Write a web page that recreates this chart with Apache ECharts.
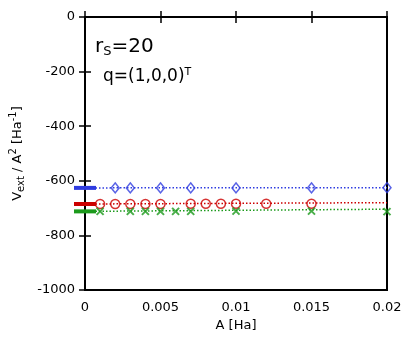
<!DOCTYPE html>
<html>
<head>
<meta charset="utf-8">
<script src="https://cdn.jsdelivr.net/npm/echarts@6/dist/echarts.min.js"></script>
<style>
  html, body { margin: 0; padding: 0; background: #fff; }
  #chart { width: 415px; height: 344px; }
</style>
</head>
<body>
<div id="chart"></div>
<script>
// 数据：从图上读出
var blueX = [0.002, 0.003, 0.005, 0.007, 0.01, 0.015, 0.02];
var blueY = [-626, -626, -626, -626, -626, -626, -625];
var blueFit = [-626, -625];       // A=0 和 A=0.02 处的拟合值

var redX = [0.001, 0.002, 0.003, 0.004, 0.005, 0.007, 0.008, 0.009, 0.01, 0.012, 0.015];
var redY = [-685, -685, -685, -685, -685, -684, -684, -684, -684, -684, -684];
var redFit = [-685, -680];

var greenX = [0.001, 0.003, 0.004, 0.005, 0.006, 0.007, 0.01, 0.015, 0.02];
var greenY = [-712, -712, -712, -712, -712, -712, -711, -711, -713];
var greenFit = [-712, -704];

var fitX = [0, 0.02];

var xTicks = [0, 0.005, 0.01, 0.015, 0.02];
var yMin = -1000, yMax = 0, yStep = 200;

var BLUE = '#2f3ce0', RED = '#cc0000', GREEN = '#1c9a1c';
var FONT = 'DejaVu Sans';

function pairs(xs, ys) {
    var out = [];
    for (var i = 0; i < xs.length; i++) out.push([xs[i], ys[i]]);
    return out;
}

// 一组：拟合虚线（A=0 处带粗短线标记）+ 散点
function groupSeries(color, xs, ys, fit, symbol, size, bw) {
    return [
        {
            type: 'line', showSymbol: true,
            data: [
                { value: [fitX[0], fit[0]], symbol: 'rect', symbolSize: [22, 4], itemStyle: { color: color } },
                { value: [fitX[1], fit[1]], symbol: 'none' }
            ],
            lineStyle: { color: color, width: 1.5, type: [1.5, 2] }
        },
        {
            type: 'scatter', data: pairs(xs, ys), symbol: symbol, symbolSize: size,
            itemStyle: { color: 'rgba(0,0,0,0)', borderColor: color, borderWidth: bw }
        }
    ];
}

var series = [].concat(
    groupSeries(BLUE, blueX, blueY, blueFit, 'diamond', [8, 10], 1.5),
    groupSeries(RED, redX, redY, redFit, 'circle', 9, 1.5),
    groupSeries(GREEN, greenX, greenY, greenFit, 'path://M0,0L10,10M10,0L0,10', 7, 2)
);

// 刻度朝内：这里 inside:true 实测反而朝外，所以反过来设
function mkTick() {
    return { show: true, inside: false, length: 6, lineStyle: { color: '#000', width: 1.5 } };
}
function mkLine() {
    return { show: true, lineStyle: { color: '#000', width: 2 } };
}
function plain(v) { return String(v); }

var chart = echarts.init(document.getElementById('chart'));

chart.setOption({
    animation: false,
    textStyle: { fontFamily: FONT },
    // 外框用 grid 边框兜底
    grid: { left: 85, right: 28, top: 17, bottom: 54, show: true, borderColor: '#000', borderWidth: 2 },
    title: [
        {
            left: 90, top: 30,
            text: 'r{sub|S}=20',
            textStyle: {
                fontFamily: FONT, fontSize: 20, fontWeight: 'normal', color: '#000',
                rich: { sub: { fontFamily: FONT, fontSize: 13, verticalAlign: 'bottom', padding: [10, 0, 0, 0] } }
            }
        },
        {
            left: 98, top: 62,
            text: 'q=(1,0,0){sup|T}',
            textStyle: {
                fontFamily: FONT, fontSize: 17, fontWeight: 'normal', color: '#000',
                rich: { sup: { fontFamily: FONT, fontSize: 11, verticalAlign: 'top', padding: [0, 0, 8, 0] } }
            }
        }
    ],
    xAxis: [
        {
            type: 'value', min: xTicks[0], max: xTicks[xTicks.length - 1], interval: 0.005,
            name: 'A [Ha]', nameLocation: 'middle', nameGap: 28,
            nameTextStyle: { fontFamily: FONT, fontSize: 13, color: '#000' },
            axisLine: mkLine(), axisTick: mkTick(), splitLine: { show: false },
            axisLabel: { fontFamily: FONT, fontSize: 13, color: '#000', margin: 11, formatter: plain }
        },
        {
            type: 'value', position: 'top', min: xTicks[0], max: xTicks[xTicks.length - 1], interval: 0.005,
            axisLine: mkLine(), axisTick: mkTick(), splitLine: { show: false }, axisLabel: { show: false }
        }
    ],
    yAxis: [
        {
            type: 'value', min: yMin, max: yMax, interval: yStep,
            name: 'V{sub|ext} / A{sup|2} [Ha{sup|-1}]', nameLocation: 'middle', nameGap: 56,
            nameTextStyle: {
                fontFamily: FONT, fontSize: 13, color: '#000',
                rich: {
                    sub: { fontFamily: FONT, fontSize: 10, padding: [8, 0, 0, 0] },
                    sup: { fontFamily: FONT, fontSize: 10, padding: [0, 0, 8, 0] }
                }
            },
            axisLine: mkLine(), axisTick: mkTick(), splitLine: { show: false },
            axisLabel: { fontFamily: FONT, fontSize: 13, color: '#000', margin: 10, formatter: plain }
        },
        {
            type: 'value', position: 'right', min: yMin, max: yMax, interval: yStep,
            axisLine: mkLine(), axisTick: mkTick(), splitLine: { show: false }, axisLabel: { show: false }
        }
    ],
    series: series
});
</script>
</body>
</html>
